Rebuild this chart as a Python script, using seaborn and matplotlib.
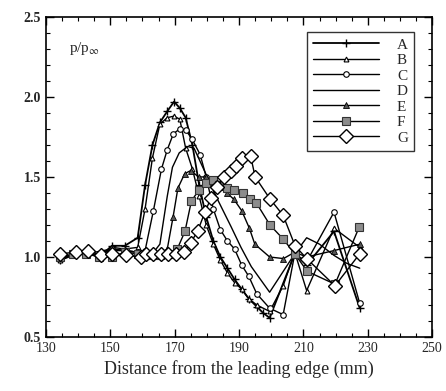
import matplotlib
matplotlib.use("Agg")
import matplotlib.pyplot as plt
from matplotlib.ticker import MultipleLocator
import seaborn as sns
import pandas as pd

# ---- data ----
xA = [134.5, 138.5, 142.5, 146.5, 150.5, 154.5, 158.5, 160.8, 163.1, 165.4, 167.7, 169.8,
      171.6, 173.4, 175.5, 177.6, 179.8, 182.0, 184.2, 186.4, 188.6, 190.8, 193.0, 195.5,
      197.5, 199.5, 207.3, 211.0, 219.5, 227.5]
yA = [0.98, 1.02, 1.04, 1.00, 1.07, 1.07, 1.12, 1.45, 1.70, 1.84, 1.91, 1.97,
      1.93, 1.87, 1.70, 1.45, 1.25, 1.10, 1.00, 0.93, 0.86, 0.80, 0.74, 0.69,
      0.65, 0.62, 1.02, 0.95, 1.16, 0.68]

xB = [134.5, 138.5, 142.5, 146.5, 150.5, 154.5, 158.5, 160.8, 163.1, 165.4, 167.7, 169.8,
      171.6, 173.4, 175.5, 177.6, 179.8, 182.0, 184.2, 186.4, 188.6, 190.8, 193.0, 195.5,
      199.5, 203.7, 207.3, 211.0, 219.5, 227.5]
yB = [0.98, 1.01, 1.03, 1.00, 1.06, 1.05, 1.06, 1.30, 1.62, 1.83, 1.87, 1.88,
      1.86, 1.68, 1.55, 1.38, 1.20, 1.08, 0.98, 0.90, 0.84, 0.80, 0.74, 0.70,
      0.66, 0.82, 1.03, 0.79, 1.18, 1.06]

xC = [134.5, 138.5, 142.5, 146.5, 150.5, 154.5, 158.5, 160.8, 163.4, 165.9, 167.7, 169.6,
      171.6, 173.5, 175.3, 177.9, 179.8, 182.0, 184.2, 186.4, 188.6, 190.8, 193.0, 195.5,
      199.5, 203.7, 207.3, 211.0, 219.5, 227.5]
yC = [1.00, 1.01, 1.03, 1.01, 1.05, 1.04, 1.03, 1.04, 1.29, 1.55, 1.67, 1.77,
      1.80, 1.79, 1.74, 1.64, 1.50, 1.30, 1.17, 1.10, 1.05, 0.95, 0.88, 0.77,
      0.68, 0.64, 1.02, 0.97, 1.28, 0.71]

xD = [134.5, 142.5, 150.5, 158.5, 163.1, 165.4, 167.7, 169.3, 171.4, 174.0, 176.0, 179.2,
      183.3, 187.5, 190.6, 193.8, 199.5, 207.3, 211.0, 215.0, 219.5, 223.5, 227.5]
yD = [1.00, 1.02, 1.05, 1.03, 1.02, 1.08, 1.38, 1.56, 1.65, 1.69, 1.68, 1.54,
      1.36, 1.19, 1.06, 0.94, 0.78, 1.02, 1.12, 1.08, 1.01, 0.96, 0.93]

xE = [134.5, 138.5, 142.5, 146.5, 150.5, 154.5, 158.5, 160.8, 163.1, 165.4, 167.7, 169.5,
      171.0, 173.1, 175.0, 177.4, 179.6, 181.8, 184.0, 186.2, 188.4, 190.8, 193.2, 194.9,
      199.5, 203.8, 207.3, 211.0, 219.5, 227.5]
yE = [1.00, 1.01, 1.03, 1.00, 1.04, 1.04, 1.03, 1.03, 1.02, 1.02, 1.05, 1.25,
      1.43, 1.52, 1.54, 1.50, 1.50, 1.48, 1.44, 1.40, 1.36, 1.29, 1.18, 1.08,
      1.00, 0.99, 1.03, 1.00, 1.04, 1.08]

xF = [134.5, 138.5, 142.5, 146.5, 150.5, 154.5, 158.5, 160.8, 163.1, 165.4, 168.0, 170.8,
      173.2, 175.2, 177.6, 179.7, 181.8, 183.9, 186.2, 188.5, 191.1, 193.5, 195.3, 199.6,
      203.8, 207.3, 211.2, 219.8, 227.4]
yF = [1.00, 1.02, 1.02, 1.00, 1.00, 1.03, 1.02, 1.01, 1.01, 1.01, 1.02, 1.05,
      1.16, 1.35, 1.42, 1.46, 1.48, 1.45, 1.43, 1.42, 1.40, 1.36, 1.34, 1.20,
      1.11, 1.02, 0.91, 0.83, 1.19]

xG = [134.5, 139.2, 143.0, 147.2, 150.6, 154.8, 159.4, 161.0, 163.4, 165.7, 168.0, 170.3,
      172.9, 175.0, 177.1, 179.4, 181.3, 183.3, 185.4, 187.5, 189.0, 191.0, 193.6, 195.0,
      199.7, 203.7, 207.4, 211.0, 219.8, 227.5]
yG = [1.02, 1.03, 1.04, 1.01, 1.02, 1.01, 1.00, 1.02, 1.02, 1.02, 1.02, 1.02,
      1.03, 1.09, 1.16, 1.28, 1.37, 1.44, 1.50, 1.54, 1.57, 1.62, 1.63, 1.50,
      1.36, 1.26, 1.07, 0.99, 0.82, 1.02]

labels = ["A", "B", "C", "D", "E", "F", "G"]
xs = [xA, xB, xC, xD, xE, xF, xG]
ys = [yA, yB, yC, yD, yE, yF, yG]

xticks = [130, 150, 170, 190, 210, 230, 250]
yticks = [0.5, 1.0, 1.5, 2.0, 2.5]

# ---- styling ----
sns.set_style("ticks")
plt.rcParams["font.family"] = ["Liberation Serif", "DejaVu Serif"]
plt.rcParams["mathtext.fontset"] = "stix"

styles = {
    "A": dict(marker="+", markersize=6, mfc="black", mec="black", mew=1.0, lw=1.3),
    "B": dict(marker="^", markersize=3.5, mfc="white", mec="black", mew=0.8, lw=1.0),
    "C": dict(marker="o", markersize=4, mfc="white", mec="black", mew=0.8, lw=1.0),
    "D": dict(marker=None, lw=1.0),
    "E": dict(marker="^", markersize=4, mfc="#555555", mec="black", mew=0.6, lw=1.0),
    "F": dict(marker="s", markersize=6, mfc="#8c8c8c", mec="#333333", mew=0.8, lw=1.0),
    "G": dict(marker="D", markersize=7, mfc="white", mec="black", mew=1.0, lw=1.0),
}

fig = plt.figure(figsize=(4.46, 3.91), dpi=100)
ax = fig.add_axes([0.103, 0.138, 0.866, 0.819])

handles = []
for lab, x, y in zip(labels, xs, ys):
    df = pd.DataFrame({"x": x, "y": y})
    sns.lineplot(data=df, x="x", y="y", ax=ax, color="black", sort=False,
                 estimator=None, legend=False, **styles[lab])
    handles.append(ax.lines[-1])

ax.set_xlim(130, 250)
ax.set_ylim(0.5, 2.5)
ax.set_xticks(xticks)
ax.set_yticks(yticks)
ax.set_yticklabels([f"{v:.1f}" for v in yticks], fontsize=10, fontweight="bold")
ax.set_xticklabels([str(v) for v in xticks], fontsize=10)
ax.xaxis.set_minor_locator(MultipleLocator(5))
ax.yaxis.set_minor_locator(MultipleLocator(0.1))
ax.tick_params(which="both", direction="in", top=True, right=True, color="black")
ax.tick_params(which="major", length=6, width=1.0)
ax.tick_params(which="minor", length=3, width=0.8)
for s in ax.spines.values():
    s.set_linewidth(1.2)
    s.set_color("black")

ax.set_xlabel("Distance from the leading edge (mm)", fontsize=13)
ax.set_ylabel("")
ax.text(137.2, 2.3, r"p/p$_{\infty}$", fontsize=11, ha="left", va="center")

leg = ax.legend(handles, labels, loc="upper right", bbox_to_anchor=(0.953, 0.953),
                borderaxespad=0.0, handlelength=4.3, handletextpad=1.2,
                labelspacing=0.12, fontsize=11, frameon=True, fancybox=False,
                borderpad=0.4)
leg.get_frame().set_edgecolor("black")
leg.get_frame().set_linewidth(1.0)

fig.savefig("out.png", dpi=100)
